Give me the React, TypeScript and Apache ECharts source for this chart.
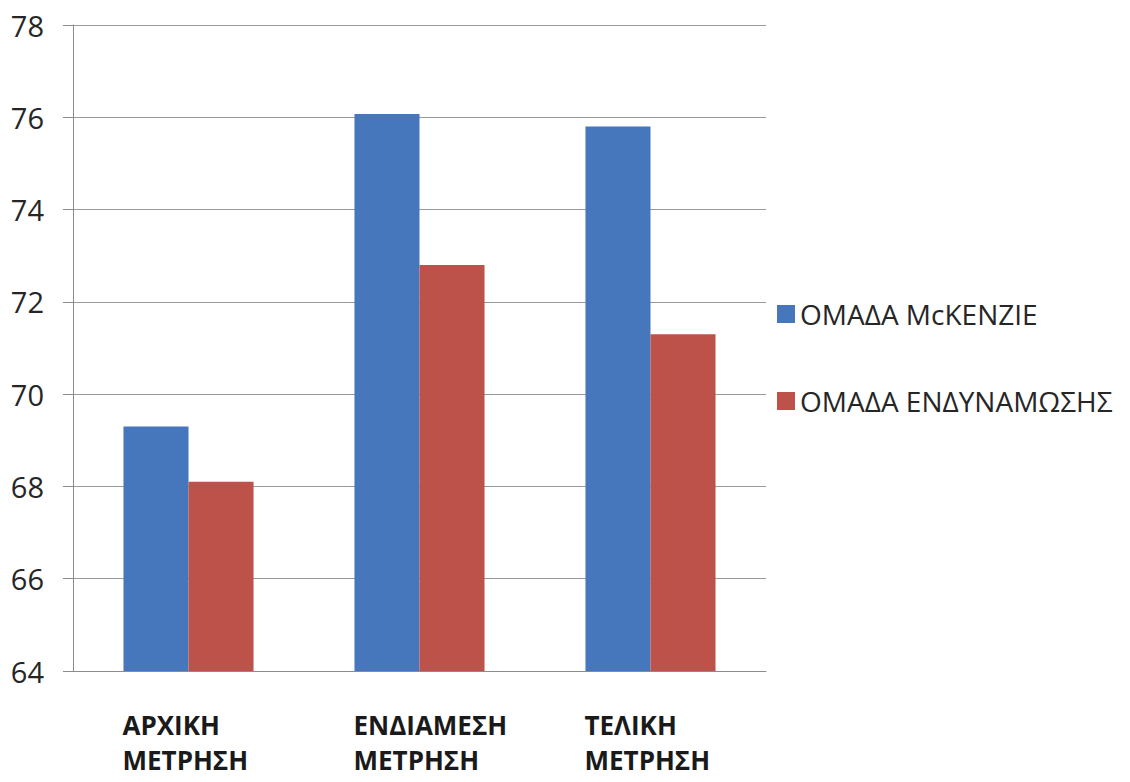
import React, { useEffect, useRef } from "react";
import * as echarts from "echarts";

const categories = ["ΑΡΧΙΚΗ\nΜΕΤΡΗΣΗ", "ΕΝΔΙΑΜΕΣΗ\nΜΕΤΡΗΣΗ", "ΤΕΛΙΚΗ\nΜΕΤΡΗΣΗ"];
const seriesNames = ["ΟΜΑΔΑ McKENZIE", "ΟΜΑΔΑ ΕΝΔΥΝΑΜΩΣΗΣ"];
const mckenzie = [69.3, 76.07, 75.8];
const strengthening = [68.1, 72.8, 71.3];
const colors = ["#4676BC", "#BC5249"];

export default function App() {
  const ref = useRef<HTMLDivElement>(null);
  useEffect(() => {
    if (!ref.current) return;
    const chart = echarts.init(ref.current, null, { renderer: "svg" });
    const font = "'Open Sans', 'Noto Sans', sans-serif";
    chart.setOption({
      animation: false,
      color: colors,
      textStyle: { fontFamily: font },
      grid: { left: 73, right: 364, top: 25, bottom: 111, containLabel: false },
      legend: {
        orient: "vertical",
        left: 772,
        top: 294,
        itemWidth: 18,
        itemHeight: 18,
        itemGap: 57,
        icon: "rect",
        textStyle: { fontSize: 28, color: "#262626", fontFamily: font, lineHeight: 30, padding: [0, 0, 0, 0] },
        data: seriesNames,
      },
      xAxis: {
        type: "category",
        data: categories,
        axisLine: { show: true, lineStyle: { color: "#8c8c8c", width: 1 } },
        axisTick: { show: false },
        axisLabel: {
          margin: 36,
          interval: 0,
          formatter: (v: string) => v.split("\n").map((s) => `{a|${s}}`).join("\n"),
          rich: {
            a: {
              width: 132,
              align: "left",
              fontSize: 26,
              fontWeight: "bold",
              lineHeight: 35,
              color: "#1a1a1a",
              fontFamily: font,
            },
          },
        },
      },
      yAxis: {
        type: "value",
        min: 64,
        max: 78,
        interval: 2,
        axisLine: { show: true, lineStyle: { color: "#8c8c8c", width: 1 } },
        axisTick: { show: true, length: 10, lineStyle: { color: "#8c8c8c" } },
        splitLine: { show: true, lineStyle: { color: "#9a9a9a", width: 1 } },
        axisLabel: { fontSize: 29, color: "#262626", margin: 29, fontFamily: font },
      },
      series: [
        {
          name: seriesNames[0],
          type: "bar",
          data: mckenzie,
          barGap: "0%",
          barCategoryGap: "43.7%",
          itemStyle: { color: colors[0] },
        },
        {
          name: seriesNames[1],
          type: "bar",
          data: strengthening,
          barGap: "0%",
          barCategoryGap: "43.7%",
          itemStyle: { color: colors[1] },
        },
      ],
    });
    return () => chart.dispose();
  }, []);
  return <div ref={ref} style={{ width: 1130, height: 782, position: "absolute", left: 0, top: 0, background: "#fff" }} />;
}
